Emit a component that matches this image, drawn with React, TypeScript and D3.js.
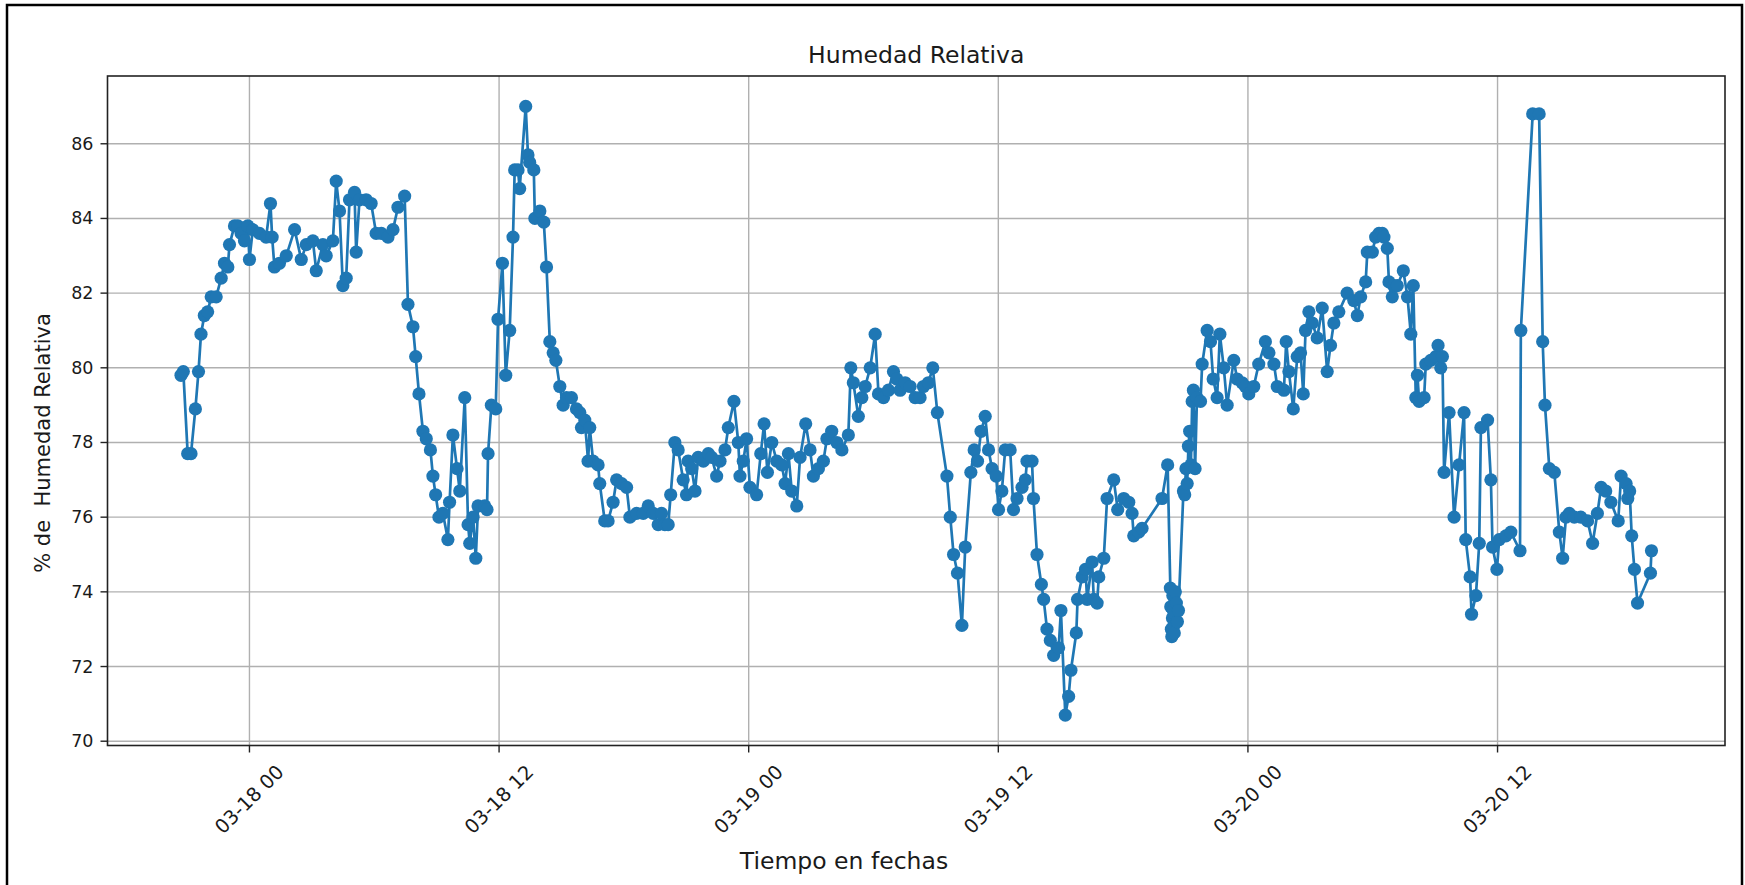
import React from 'react'
import * as d3 from 'd3'

// Horas desde 03-18 00:00 y % de humedad relativa
const horas = [
  -3.29, -3.18, -2.97, -2.81, -2.60, -2.45, -2.33, -2.17, -2.01, -1.84,
  -1.60, -1.36, -1.20, -1.04, -0.96, -0.72, -0.56, -0.40, -0.24, -0.08,
  0.00, 0.16, 0.48, 0.80, 1.01, 1.09, 1.20, 1.44, 1.77, 2.17,
  2.49, 2.73, 3.05, 3.21, 3.53, 3.69, 4.01, 4.17, 4.33, 4.49,
  4.65, 4.81, 5.05, 5.13, 5.29, 5.61, 5.85, 6.09, 6.34, 6.66,
  6.90, 7.14, 7.46, 7.62, 7.86, 7.99, 8.15, 8.34, 8.50, 8.70,
  8.82, 8.95, 9.11, 9.30, 9.54, 9.62, 9.78, 9.98, 10.11, 10.35,
  10.51, 10.59, 10.75, 10.88, 10.99, 11.31, 11.42, 11.47, 11.63, 11.84,
  11.95, 12.16, 12.32, 12.51, 12.67, 12.75, 12.91, 12.99, 13.28, 13.39,
  13.47, 13.67, 13.72, 13.96, 14.15, 14.28, 14.44, 14.60, 14.73, 14.92,
  15.08, 15.24, 15.48, 15.72, 15.88, 15.96, 16.12, 16.28, 16.36, 16.52,
  16.76, 16.84, 17.08, 17.24, 17.48, 17.65, 17.89, 18.13, 18.29, 18.61,
  18.93, 19.17, 19.41, 19.65, 19.81, 19.97, 20.13, 20.25, 20.45, 20.61,
  20.85, 21.01, 21.09, 21.26, 21.42, 21.57, 21.82, 22.06, 22.22, 22.46,
  22.62, 22.86, 23.02, 23.29, 23.50, 23.58, 23.74, 23.90, 24.06, 24.38,
  24.58, 24.74, 24.90, 25.11, 25.35, 25.59, 25.75, 25.91, 26.07, 26.31,
  26.47, 26.74, 26.95, 27.11, 27.35, 27.59, 27.76, 27.99, 28.24, 28.48,
  28.79, 28.91, 29.03, 29.27, 29.44, 29.60, 29.84, 30.08, 30.24, 30.48,
  30.72, 30.96, 31.12, 31.28, 31.52, 31.76, 32.00, 32.24, 32.40, 32.64,
  32.85, 33.07, 33.53, 33.69, 33.85, 34.04, 34.25, 34.41, 34.68, 34.84,
  35.00, 35.17, 35.37, 35.53, 35.70, 35.90, 36.01, 36.17, 36.33, 36.57,
  36.73, 36.90, 37.14, 37.30, 37.38, 37.62, 37.69, 37.86, 38.07, 38.18,
  38.34, 38.50, 38.66, 38.90, 39.01, 39.22, 39.38, 39.49, 39.75, 39.81,
  40.03, 40.19, 40.27, 40.51, 40.59, 40.75, 40.83, 41.07, 41.23, 41.55,
  41.74, 42.03, 42.27, 42.43, 42.51, 42.75, 42.91, 43.87, 44.14, 44.27,
  44.29, 44.32, 44.34, 44.37, 44.39, 44.42, 44.44, 44.46, 44.49, 44.51,
  44.56, 44.61, 44.66, 44.90, 44.96, 45.02, 45.08, 45.14, 45.20, 45.26,
  45.32, 45.38, 45.46, 45.55, 45.72, 45.80, 46.04, 46.20, 46.33, 46.52,
  46.65, 46.84, 47.00, 47.32, 47.48, 47.72, 47.88, 48.04, 48.28, 48.52,
  48.84, 49.01, 49.25, 49.41, 49.73, 49.84, 49.97, 50.18, 50.37, 50.53,
  50.66, 50.77, 50.93, 51.09, 51.33, 51.57, 51.81, 51.97, 52.13, 52.37,
  52.77, 53.09, 53.26, 53.42, 53.66, 53.74, 53.98, 54.14, 54.30, 54.46,
  54.54, 54.70, 54.78, 54.94, 55.00, 55.18, 55.47, 55.67, 55.83, 55.95,
  56.07, 56.15, 56.23, 56.47, 56.55, 56.79, 57.03, 57.14, 57.27, 57.35,
  57.43, 57.67, 57.91, 58.15, 58.39, 58.47, 58.68, 58.75, 58.96, 59.12,
  59.20, 59.52, 59.68, 59.76, 59.97, 60.08, 60.40, 60.64, 61.08, 61.12,
  61.69, 62.00, 62.17, 62.28, 62.49, 62.73, 62.97, 63.13, 63.29, 63.45,
  63.69, 64.00, 64.33, 64.57, 64.80, 64.98, 65.20, 65.45, 65.80, 65.94,
  66.18, 66.26, 66.35, 66.45, 66.58, 66.73, 67.35, 67.40
]

const humedad = [
  79.8, 79.9, 77.7, 77.7, 78.9, 79.9, 80.9, 81.4, 81.5, 81.9,
  81.9, 82.4, 82.8, 82.7, 83.3, 83.8, 83.8, 83.6, 83.4, 83.8,
  82.9, 83.7, 83.6, 83.5, 84.4, 83.5, 82.7, 82.8, 83.0, 83.7,
  82.9, 83.3, 83.4, 82.6, 83.3, 83.0, 83.4, 85.0, 84.2, 82.2,
  82.4, 84.5, 84.7, 83.1, 84.5, 84.5, 84.4, 83.6, 83.6, 83.5,
  83.7, 84.3, 84.6, 81.7, 81.1, 80.3, 79.3, 78.3, 78.1, 77.8,
  77.1, 76.6, 76.0, 76.1, 75.4, 76.4, 78.2, 77.3, 76.7, 79.2,
  75.8, 75.3, 76.0, 74.9, 76.3, 76.3, 76.2, 77.7, 79.0, 78.9,
  81.3, 82.8, 79.8, 81.0, 83.5, 85.3, 85.3, 84.8, 87.0, 85.7,
  85.5, 85.3, 84.0, 84.2, 83.9, 82.7, 80.7, 80.4, 80.2, 79.5,
  79.0, 79.2, 79.2, 78.9, 78.8, 78.4, 78.6, 77.5, 78.4, 77.5,
  77.4, 76.9, 75.9, 75.9, 76.4, 77.0, 76.9, 76.8, 76.0, 76.1,
  76.1, 76.3, 76.1, 75.8, 76.1, 75.8, 75.8, 76.6, 78.0, 77.8,
  77.0, 76.6, 77.5, 77.3, 76.7, 77.6, 77.5, 77.7, 77.6, 77.1,
  77.5, 77.8, 78.4, 79.1, 78.0, 77.1, 77.5, 78.1, 76.8, 76.6,
  77.7, 78.5, 77.2, 78.0, 77.5, 77.4, 76.9, 77.7, 76.7, 76.3,
  77.6, 78.5, 77.8, 77.1, 77.3, 77.5, 78.1, 78.3, 78.0, 77.8,
  78.2, 80.0, 79.6, 78.7, 79.2, 79.5, 80.0, 80.9, 79.3, 79.2,
  79.4, 79.9, 79.7, 79.4, 79.6, 79.5, 79.2, 79.2, 79.5, 79.6,
  80.0, 78.8, 77.1, 76.0, 75.0, 74.5, 73.1, 75.2, 77.2, 77.8,
  77.5, 78.3, 78.7, 77.8, 77.3, 77.1, 76.2, 76.7, 77.8, 77.8,
  76.2, 76.5, 76.8, 77.0, 77.5, 77.5, 76.5, 75.0, 74.2, 73.8,
  73.0, 72.7, 72.3, 72.5, 73.5, 70.7, 71.2, 71.9, 72.9, 73.8,
  74.4, 74.6, 73.8, 74.8, 73.8, 73.7, 74.4, 74.9, 76.5, 77.0,
  76.2, 76.5, 76.4, 76.1, 75.5, 75.6, 75.7, 76.5, 77.4, 74.1,
  73.6, 73.0, 72.8, 73.3, 73.9, 73.5, 73.1, 72.9, 73.4, 74.0,
  73.7, 73.2, 73.5, 76.7, 76.6, 77.3, 76.9, 77.9, 78.3, 77.4,
  79.1, 79.4, 77.3, 79.2, 79.1, 80.1, 81.0, 80.7, 79.7, 79.2,
  80.9, 80.0, 79.0, 80.2, 79.7, 79.6, 79.5, 79.3, 79.5, 80.1,
  80.7, 80.4, 80.1, 79.5, 79.4, 80.7, 79.9, 78.9, 80.3, 80.4,
  79.3, 81.0, 81.5, 81.2, 80.8, 81.6, 79.9, 80.6, 81.2, 81.5,
  82.0, 81.8, 81.4, 81.9, 82.3, 83.1, 83.1, 83.5, 83.6, 83.6,
  83.5, 83.2, 82.3, 81.9, 82.2, 82.2, 82.6, 81.9, 80.9, 82.2,
  79.2, 79.8, 79.1, 79.2, 80.1, 80.2, 80.3, 80.6, 80.0, 80.3,
  77.2, 78.8, 76.0, 77.4, 78.8, 75.4, 74.4, 73.4, 73.9, 75.3,
  78.4, 78.6, 77.0, 75.2, 74.6, 75.4, 75.5, 75.6, 75.1, 81.0,
  86.8, 86.8, 80.7, 79.0, 77.3, 77.2, 75.6, 74.9, 76.0, 76.1,
  76.0, 76.0, 75.9, 75.3, 76.1, 76.8, 76.7, 76.4, 75.9, 77.1,
  76.9, 76.5, 76.7, 75.5, 74.6, 73.7, 74.5, 75.1
]

const yTicks = [70, 72, 74, 76, 78, 80, 82, 84, 86]

const W = 1745
const H = 885
const left = 107.5
const right = 1725
const top = 76
const bottom = 745.5
const font = 'DejaVu Sans, sans-serif'
const textColor = '#1a1a1a'
const blue = '#1f77b4'
const base = new Date(2024, 2, 18, 0, 0, 0).getTime()

export default function App() {
  const data = horas.map((h, i) => ({
    fecha: new Date(base + h * 3600000),
    valor: humedad[i]
  }))

  // margenes de 5% como matplotlib
  const [t0, t1] = d3.extent(data, d => d.fecha.getTime()) as [number, number]
  const tPad = (t1 - t0) * 0.05
  const x = d3.scaleTime()
    .domain([new Date(t0 - tPad), new Date(t1 + tPad)])
    .range([left, right])

  const [v0, v1] = d3.extent(humedad) as [number, number]
  const vPad = (v1 - v0) * 0.05
  const y = d3.scaleLinear()
    .domain([v0 - vPad, v1 + vPad])
    .range([bottom, top])

  const xTicks = x.ticks(d3.timeHour.every(12) as d3.TimeInterval)
  const fmt = d3.timeFormat('%m-%d %H')

  const line = d3.line<{ fecha: Date; valor: number }>()
    .x(d => x(d.fecha))
    .y(d => y(d.valor))

  return (
    <svg width={W} height={H} style={{ position: 'absolute', left: 0, top: 0, background: '#fff' }}>
      <rect x={0} y={0} width={W} height={H} fill="#fff" />
      {/* marco de la captura */}
      <path d={`M7,${H} V5 H1742 V${H}`} fill="none" stroke="#000" strokeWidth={2.5} />

      {/* rejilla */}
      <g stroke="#b0b0b0" strokeWidth={1.4}>
        {xTicks.map((t, i) => (
          <line key={'gx' + i} x1={x(t)} x2={x(t)} y1={top} y2={bottom} />
        ))}
        {yTicks.map(v => (
          <line key={'gy' + v} x1={left} x2={right} y1={y(v)} y2={y(v)} />
        ))}
      </g>

      {/* serie */}
      <path d={line(data) || ''} fill="none" stroke={blue} strokeWidth={2.7} strokeLinejoin="round" />
      <g fill={blue}>
        {data.map((d, i) => (
          <circle key={i} cx={x(d.fecha)} cy={y(d.valor)} r={6.6} />
        ))}
      </g>

      {/* ejes */}
      <rect x={left} y={top} width={right - left} height={bottom - top}
        fill="none" stroke="#222" strokeWidth={1.6} />
      <g stroke="#222" strokeWidth={1.4}>
        {yTicks.map(v => (
          <line key={'ty' + v} x1={left - 7} x2={left} y1={y(v)} y2={y(v)} />
        ))}
        {xTicks.map((t, i) => (
          <line key={'tx' + i} x1={x(t)} x2={x(t)} y1={bottom} y2={bottom + 7} />
        ))}
      </g>
      <g fontFamily={font} fill={textColor}>
        {yTicks.map(v => (
          <text key={'ly' + v} x={left - 14} y={y(v)} fontSize={17.5}
            textAnchor="end" dominantBaseline="central">
            {v}
          </text>
        ))}
        {xTicks.map((t, i) => (
          <text key={'lx' + i} fontSize={19.5} textAnchor="middle" dominantBaseline="central"
            transform={`translate(${x(t)},${bottom + 54}) rotate(-45)`}>
            {fmt(t)}
          </text>
        ))}
      </g>

      <text x={(left + right) / 2} y={63} textAnchor="middle" fontFamily={font}
        fontSize={23.5} fill={textColor}>Humedad Relativa</text>
      <text x={844} y={869} textAnchor="middle" fontFamily={font}
        fontSize={23.5} fill={textColor}>Tiempo en fechas</text>
      <text transform="translate(50,443) rotate(-90)" textAnchor="middle" fontFamily={font}
        fontSize={21} fill={textColor} style={{ whiteSpace: 'pre' }}>{'% de  Humedad Relativa'}</text>
    </svg>
  )
}
